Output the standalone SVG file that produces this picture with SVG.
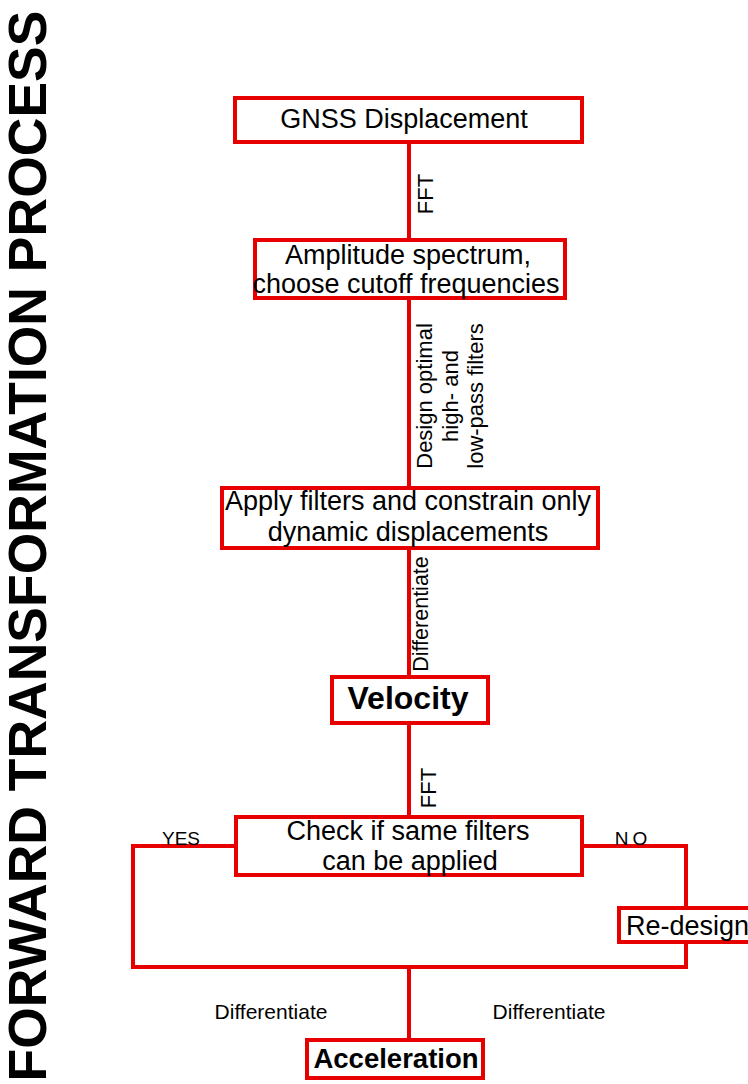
<svg xmlns="http://www.w3.org/2000/svg" width="748" height="1084" viewBox="0 0 748 1084">
<style>
.box{fill:#fff;stroke:#e60000;stroke-width:4}
.ln{fill:none;stroke:#e60000;stroke-width:4}
.t{font-family:"Liberation Sans",Arial,sans-serif;fill:#000;text-anchor:middle;font-size:27px}
.b{font-weight:bold}
.lab{font-family:"Liberation Sans",Arial,sans-serif;fill:#000;font-size:22px;text-anchor:middle}
</style>
<rect width="748" height="1084" fill="#fff"/>
<g id="title">
<text class="t b" style="font-size:53.5px" transform="translate(46,546) rotate(-90)">FORWARD TRANSFORMATION PROCESS</text>
</g>
<g id="connectors">
<line class="ln" x1="409" y1="143" x2="409" y2="240"/>
<line class="ln" x1="409" y1="298" x2="409" y2="488"/>
<line class="ln" x1="409" y1="548" x2="409" y2="677"/>
<line class="ln" x1="409" y1="723" x2="409" y2="817"/>
<polyline class="ln" points="236,846 133,846 133,967 686,967 686,942"/>
<polyline class="ln" points="582,846 686,846 686,908"/>
<line class="ln" x1="409" y1="967" x2="409" y2="1040"/>
<text class="lab" transform="translate(433,194) rotate(-90)">FFT</text>
<text class="lab" transform="translate(432,396) rotate(-90)">Design optimal</text>
<text class="lab" transform="translate(458,396) rotate(-90)">high- and</text>
<text class="lab" transform="translate(483,396) rotate(-90)">low-pass filters</text>
<text class="lab" style="font-size:21.5px" transform="translate(428,614) rotate(-90)">Differentiate</text>
<text class="lab" transform="translate(436,788) rotate(-90)">FFT</text>
<text class="lab" style="font-size:19px" x="181" y="845">YES</text>
<text class="lab" style="font-size:19px" x="633" y="845" letter-spacing="4">NO</text>
<text class="lab" style="font-size:21px" x="271" y="1019">Differentiate</text>
<text class="lab" style="font-size:21px" x="549" y="1019">Differentiate</text>
</g>
<g id="gnss">
<rect class="box" x="235" y="98" width="347" height="44"/>
<text class="t" x="404" y="128">GNSS Displacement</text>
</g>
<g id="amplitude">
<rect class="box" x="255" y="240" width="310" height="58"/>
<text class="t" x="408" y="264">Amplitude spectrum,</text>
<text class="t" x="406" y="293">choose cutoff frequencies</text>
</g>
<g id="apply">
<rect class="box" x="222" y="488" width="376" height="60"/>
<text class="t" x="408" y="510">Apply filters and constrain only</text>
<text class="t" x="408" y="541">dynamic displacements</text>
</g>
<g id="velocity">
<rect class="box" x="332" y="677" width="156" height="46"/>
<text class="t b" style="font-size:32px" x="408" y="709">Velocity</text>
</g>
<g id="check">
<rect class="box" x="236" y="817" width="346" height="58"/>
<text class="t" x="408" y="840">Check if same filters</text>
<text class="t" x="410" y="870">can be applied</text>
</g>
<g id="redesign">
<rect class="box" x="619" y="908" width="135" height="34"/>
<text class="t" x="626" y="935" style="text-anchor:start">Re-design</text>
</g>
<g id="acceleration">
<rect class="box" x="307" y="1040" width="176" height="38"/>
<text class="t b" style="font-size:27.5px" x="396" y="1068">Acceleration</text>
</g>
</svg>
